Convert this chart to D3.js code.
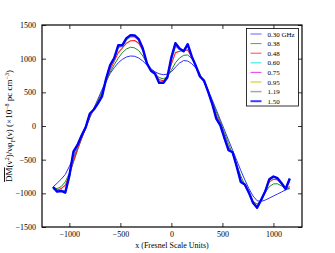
<!DOCTYPE html>
<html><head><meta charset="utf-8">
<script src="https://cdn.jsdelivr.net/npm/d3@7"></script>
<style>body{margin:0;background:#fff}svg{display:block}text{font-family:"Liberation Serif","DejaVu Serif",serif;fill:#000}</style>
</head><body>
<svg id="c" width="335" height="253"></svg>
<script>
const xs = [-1160,-1120,-1080,-1040,-1000,-960,-920,-880,-840,-800,-760,-720,-680,-640,-600,-560,-520,-480,-440,-400,-360,-320,-280,-240,-200,-160,-120,-80,-40,0,40,80,120,160,200,240,280,320,360,400,440,480,520,560,600,640,680,720,760,800,840,880,920,960,1000,1040,1080,1120,1160];
const s030 = [-905,-850,-790,-720,-600,-470,-330,-180,-30,120,260,400,540,670,780,865,940,990,1025,1040,1035,1010,965,905,850,805,775,762,770,805,875,935,972,965,925,860,760,650,530,390,240,90,-60,-210,-360,-510,-660,-800,-930,-1040,-1110,-1120,-1100,-1070,-1040,-1010,-980,-948,-922];
const s038 = [-915,-930,-900,-830,-700,-540,-360,-190,-30,130,260,380,510,650,800,910,1010,1090,1145,1170,1160,1120,1040,930,840,770,720,700,730,830,940,1010,1050,1055,1000,900,770,650,520,370,210,60,-100,-260,-420,-580,-740,-880,-1010,-1120,-1160,-1105,-985,-900,-860,-858,-890,-930,-935];
const s048 = [-930,-950,-930,-880,-740,-520,-340,-180,-30,140,250,360,480,670,840,960,1090,1160,1230,1265,1270,1230,1120,940,830,770,690,670,720,920,1090,1110,1120,1130,1020,890,750,660,510,350,160,30,-150,-320,-400,-590,-800,-880,-1000,-1130,-1195,-1110,-960,-830,-790,-800,-860,-930,-900];
const s060 = [-915,-965,-955,-960,-760,-430,-300,-150,-25,170,250,345,455,690,880,990,1160,1185,1280,1320,1320,1270,1140,935,825,775,660,655,720,990,1180,1135,1110,1190,1030,890,740,670,510,335,125,15,-170,-350,-395,-600,-820,-875,-995,-1140,-1210,-1100,-965,-800,-760,-780,-855,-935,-820];
const s075 = [-910,-968,-960,-975,-750,-410,-292,-145,-22,175,250,340,448,695,892,1000,1180,1192,1292,1335,1332,1280,1145,932,822,775,650,648,720,1005,1205,1142,1110,1202,1030,890,738,672,510,332,118,12,-175,-355,-392,-600,-825,-872,-992,-1140,-1212,-1098,-968,-795,-755,-778,-852,-935,-800];
const s095 = [-908,-970,-962,-982,-746,-398,-287,-142,-21,178,248,338,444,697,898,1004,1190,1196,1298,1342,1338,1285,1148,931,821,775,645,644,720,1012,1217,1146,1108,1208,1030,890,736,673,510,331,114,11,-177,-357,-391,-600,-827,-871,-991,-1140,-1213,-1097,-969,-793,-753,-777,-851,-935,-790];
const s119 = [-906,-972,-964,-986,-743,-390,-284,-141,-20,180,246,337,442,699,902,1007,1196,1198,1302,1347,1342,1288,1149,930,820,775,642,642,720,1016,1225,1148,1108,1212,1030,890,735,674,510,330,112,10,-179,-359,-390,-600,-829,-870,-990,-1140,-1214,-1096,-970,-791,-751,-776,-850,-935,-784];
const s150 = [-905,-975,-965,-990,-740,-382,-282,-140,-20,182,245,335,440,700,905,1010,1200,1200,1305,1350,1345,1290,1150,930,820,775,640,640,720,1020,1230,1150,1110,1215,1030,890,735,675,510,330,110,10,-180,-360,-390,-600,-830,-870,-990,-1140,-1215,-1095,-970,-790,-750,-775,-850,-935,-780];
const labels = ["0.30 GHz","0.38","0.48","0.60","0.75","0.95","1.19","1.50"];
const xTicks = [-1000,-500,0,500,1000];
const yTicks = [-1500,-1000,-500,0,500,1000,1500];

const series = [s030,s038,s048,s060,s075,s095,s119,s150];
const colors = ["#3030ff","#1a8c1a","#ff2020","#00e5e5","#e020e0","#c8c800","#8c8c8c","#0000ff"];
const widths = [1,1,1.1,1.2,1.2,1.3,1.5,2.4];

const svg = d3.select("#c");
const L=42,R=302,T=25,B=227;
const x = d3.scaleLinear().domain([-1268,1280]).range([L,R]);
const y = d3.scaleLinear().domain([-1500,1500]).range([B,T]);

const g = svg.append("g");
const line = d3.line().x((d,i)=>x(xs[i])).y(d=>y(d));
series.forEach((s,k)=>{
  g.append("path").datum(s).attr("d",line).attr("fill","none")
   .attr("stroke",colors[k]).attr("stroke-width",widths[k]).attr("stroke-linejoin","round");
});

// frame
svg.append("rect").attr("x",L).attr("y",T).attr("width",R-L).attr("height",B-T)
  .attr("fill","none").attr("stroke","#000").attr("stroke-width",1.2);

const fmt = v => (v<0?"\u2212":"")+Math.abs(v);
const axB = d3.axisBottom(x).tickValues(xTicks).tickSize(-4).tickPadding(4).tickFormat(fmt);
const axT = d3.axisTop(x).tickValues(xTicks).tickSize(-4).tickFormat("");
const axLft = d3.axisLeft(y).tickValues(yTicks).tickSize(-4).tickPadding(6).tickFormat(fmt);
const axRgt = d3.axisRight(y).tickValues(yTicks).tickSize(-4).tickFormat("");
[[axB,`translate(0,${B})`],[axT,`translate(0,${T})`],[axLft,`translate(${L},0)`],[axRgt,`translate(${R},0)`]].forEach(([a,t])=>{
  const gg = svg.append("g").attr("transform",t).call(a);
  gg.select(".domain").remove();
  gg.selectAll("line").attr("stroke","#000").attr("stroke-width",0.8);
  gg.selectAll("text").style("font-family",'"Liberation Serif",serif').style("font-size","8px").attr("fill","#000");
});

// x label
svg.append("text").attr("x",172).attr("y",248).attr("text-anchor","middle")
  .style("font-size","8px").text("x  (Fresnel Scale Units)");

// y label
const yl = svg.append("text").attr("transform","translate(12,126) rotate(-90)").attr("text-anchor","middle").style("font-size","9px");
yl.append("tspan").attr("text-decoration","overline").text("DM");
yl.append("tspan").text("(\u03bd");
yl.append("tspan").attr("baseline-shift","super").style("font-size","6px").text("2");
yl.append("tspan").text(")/\u03bd\u03c6");
yl.append("tspan").attr("baseline-shift","sub").style("font-size","6px").text("F");
yl.append("tspan").text("(\u03bd) (\u00d710");
yl.append("tspan").attr("baseline-shift","super").style("font-size","6px").text("\u22128");
yl.append("tspan").text(" pc cm");
yl.append("tspan").attr("baseline-shift","super").style("font-size","6px").text("\u22123");
yl.append("tspan").text(")");

// legend
const lg = svg.append("g");
lg.append("rect").attr("x",246.5).attr("y",28.5).attr("width",52).attr("height",77.5)
  .attr("fill","#fff").attr("stroke","#000").attr("stroke-width",0.8);
labels.forEach((lab,i)=>{
  const yy = 34 + i*9.6;
  lg.append("line").attr("x1",250.5).attr("x2",261.5).attr("y1",yy).attr("y2",yy)
    .attr("stroke",colors[i]).attr("stroke-width",Math.min(widths[i],2)).attr("opacity",0.75);
  lg.append("text").attr("x",267.5).attr("y",yy+2.5).style("font-size","7px").text(lab);
});
</script>
</body></html>
